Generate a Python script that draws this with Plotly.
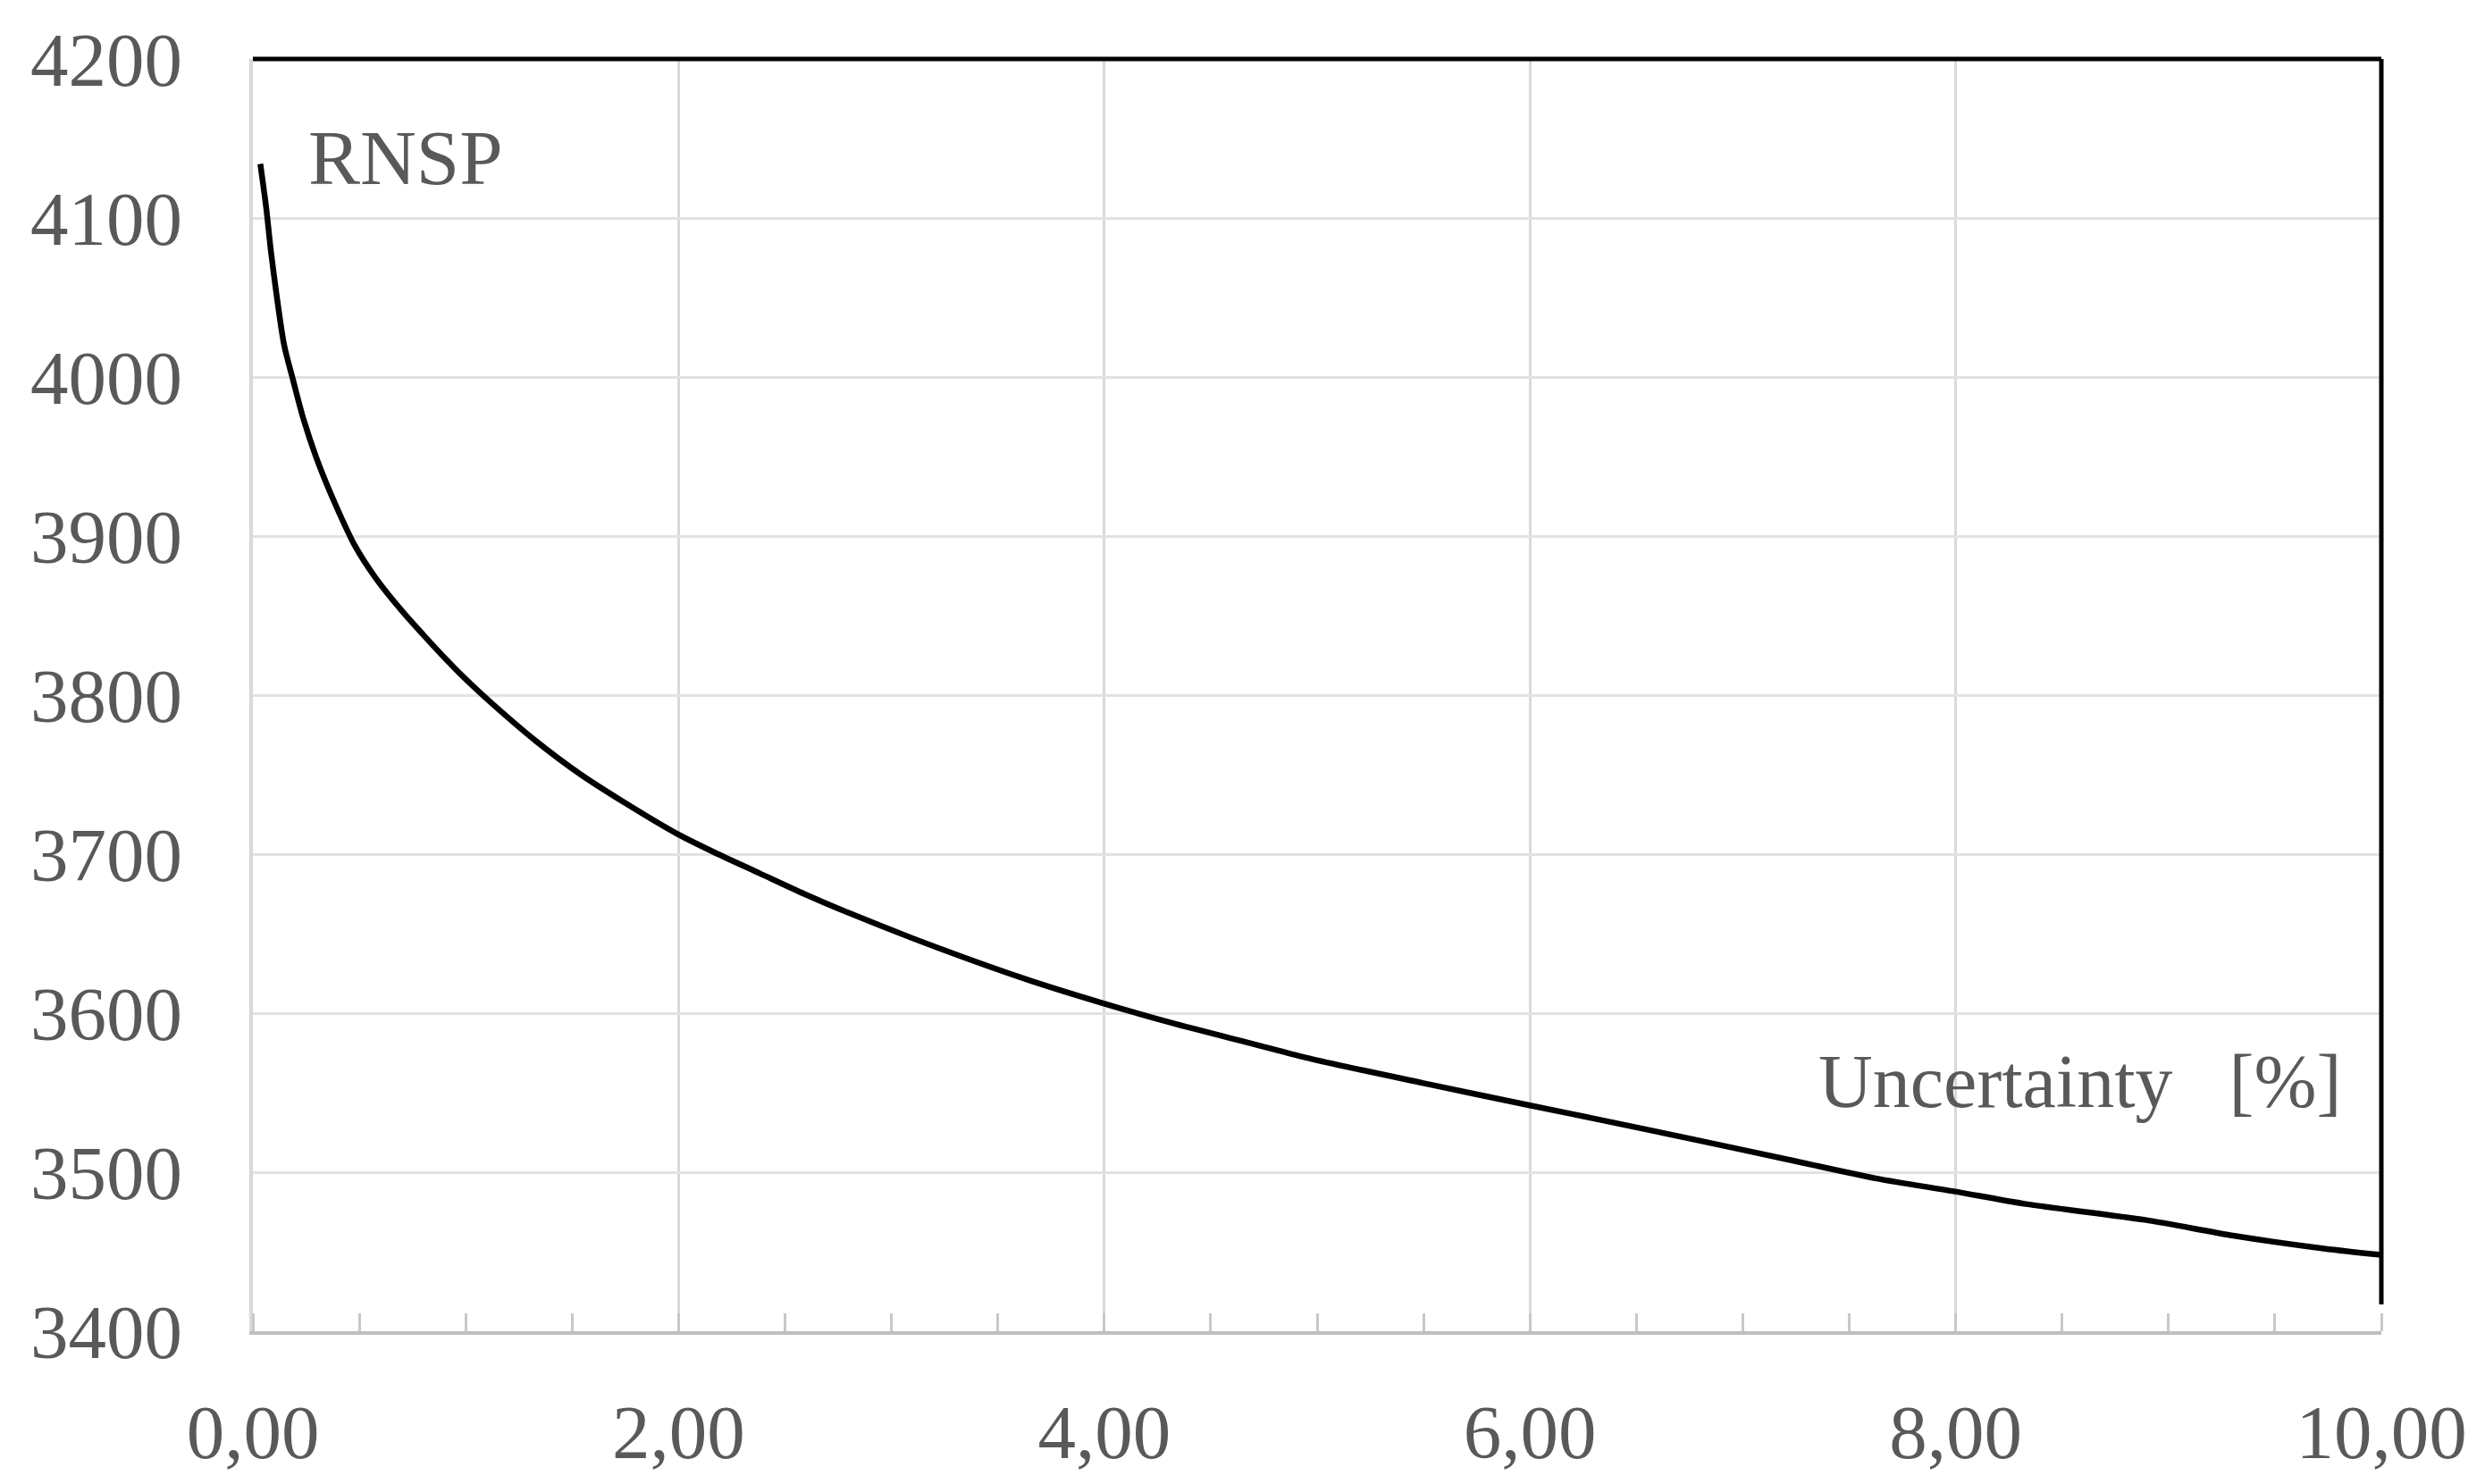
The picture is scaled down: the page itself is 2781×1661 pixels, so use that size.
"""
RNSP vs uncertainty curve
"""
import plotly.graph_objects as go

# curve
uncertainty = [0.035, 0.063, 0.084, 0.113, 0.147, 0.189, 0.239, 0.31, 0.394, 0.479,
               0.575, 0.7, 0.8, 0.911, 1.0, 1.121, 1.331, 1.541, 1.751, 1.99, 2.17,
               2.38, 2.59, 2.80, 3.22, 3.64, 4.0, 4.34, 4.69, 4.98, 5.5,
               6.0, 6.4, 6.79, 7.21, 7.63, 7.99, 8.33, 8.89, 9.31, 9.73, 10.0]
rnsp = [4134, 4106, 4080, 4050, 4020, 3998, 3973, 3945, 3918, 3894,
        3874, 3853, 3838, 3822, 3810, 3795, 3771, 3750, 3732, 3713, 3701,
        3688, 3675, 3663, 3641, 3621, 3606, 3593, 3581, 3571, 3556,
        3542, 3531, 3520, 3508, 3496, 3488, 3480, 3470, 3460, 3452, 3448]

x_ticks = [0, 2, 4, 6, 8, 10]
x_labels = ["0,00", "2,00", "4,00", "6,00", "8,00", "10,00"]
y_ticks = [3400, 3500, 3600, 3700, 3800, 3900, 4000, 4100, 4200]
y_labels = [str(v) for v in y_ticks]

FONT = "Liberation Serif"
TEXT = "#595959"

fig = go.Figure()

fig.add_trace(go.Scatter(
    x=uncertainty,
    y=rnsp,
    mode='lines',
    line=dict(color='#000000', width=6.5, shape='spline', smoothing=0.8),
    showlegend=False,
    hoverinfo='skip'
))

# frame: black top and right edges
fig.add_shape(type='line', xref='x domain', yref='y domain',
              x0=0, x1=1, y0=1, y1=1, line=dict(color='#000000', width=5))
fig.add_shape(type='line', xref='x domain', yref='y domain',
              x0=1, x1=1, y0=1, y1=0.021, line=dict(color='#000000', width=5))

fig.add_annotation(x=0.25, y=4138, text="RNSP", showarrow=False,
                   xanchor='left', yanchor='middle',
                   font=dict(family=FONT, size=87, color=TEXT))
fig.add_annotation(x=9.82, y=3557, text="Uncertainty\u00a0\u00a0\u00a0[%]", showarrow=False,
                   xanchor='right', yanchor='middle',
                   font=dict(family=FONT, size=84, color=TEXT))

# the page body adds an 8px offset, so margins are trimmed on the left/top
fig.update_layout(
    width=2781,
    height=1661,
    plot_bgcolor='#FFFFFF',
    paper_bgcolor='#FFFFFF',
    font=dict(family=FONT, size=85, color=TEXT),
    margin=dict(l=275, r=124, t=54, b=179),
    showlegend=False,
)

fig.update_xaxes(
    range=[0, 10],
    tickvals=x_ticks,
    ticktext=x_labels,
    showgrid=True,
    gridcolor='#d9d9d9',
    gridwidth=3,
    showline=True,
    linecolor='#bfbfbf',
    linewidth=4,
    ticks='',
    minor=dict(ticks='inside', dtick=0.5, ticklen=20, tickwidth=3,
               tickcolor='#c8c8c8', showgrid=False),
    ticklabelstandoff=36,
    zeroline=False,
)

fig.update_yaxes(
    range=[3400, 4200],
    tickvals=y_ticks,
    ticktext=y_labels,
    showgrid=True,
    gridcolor='#e2e2e2',
    gridwidth=3,
    showline=True,
    linecolor='#d9d9d9',
    linewidth=4,
    ticks='',
    ticklabelstandoff=58,
    zeroline=False,
)

fig.write_html("out.html")
